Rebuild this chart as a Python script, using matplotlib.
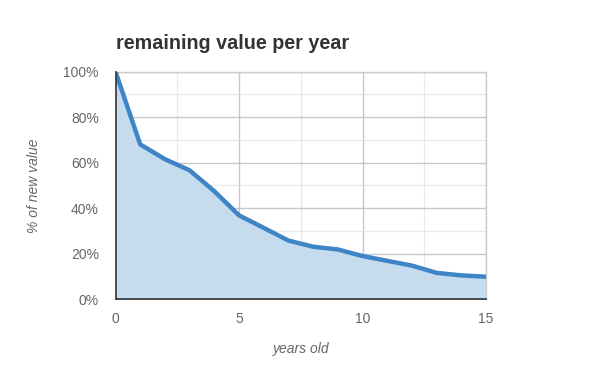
import numpy as np
import matplotlib.pyplot as plt
from matplotlib.ticker import FuncFormatter, MultipleLocator

years = [0, 1, 2, 3, 4, 5, 6, 7, 8, 9, 10, 11, 12, 13, 14, 15]
value_pct = [100, 68, 61.5, 56.6, 47.4, 36.8, 31.3, 25.7, 23, 21.8, 18.9, 16.8, 14.7, 11.5, 10.4, 9.8]

plt.rcParams['font.family'] = ['Liberation Sans', 'DejaVu Sans']

fig = plt.figure(figsize=(6, 3.71), dpi=100)
ax = fig.add_axes([0.1925, 0.194, 0.6175, 0.613])

ax.fill_between(years, value_pct, 0, color='#c5dcef', zorder=2)
ax.plot(years, value_pct, color='#3d85c6', lw=3.2, solid_joinstyle='round', zorder=4)

ax.set_xlim(0, 15)
ax.set_ylim(0, 100)
ax.xaxis.set_major_locator(MultipleLocator(5))
ax.xaxis.set_minor_locator(MultipleLocator(2.5))
ax.yaxis.set_major_locator(MultipleLocator(20))
ax.yaxis.set_minor_locator(MultipleLocator(10))
ax.yaxis.set_major_formatter(FuncFormatter(lambda v, p: '%d%%' % v))

# gridlines drawn over the fill, like the original
ax.grid(which='major', color='#bbbbbb', lw=1, alpha=0.8, zorder=3)
ax.grid(which='minor', color='#dddddd', lw=1, alpha=0.6, zorder=3)
for s in ['top', 'right']:
    ax.spines[s].set_color('#cccccc')
    ax.spines[s].set_linewidth(1)
for s in ['left', 'bottom']:
    ax.spines[s].set_color('#333333')
    ax.spines[s].set_linewidth(1.2)
    ax.spines[s].set_zorder(5)

ax.tick_params(which='both', length=0, labelsize=10, labelcolor='#666666')
ax.tick_params(axis='x', pad=9)
ax.tick_params(axis='y', pad=12)

ax.set_title('remaining value per year', loc='left', fontsize=14.2, fontweight='bold',
             color='#333333', pad=16)
ax.set_xlabel('years old', fontsize=10, style='italic', color='#666666', labelpad=12)
ax.set_ylabel('% of new value', fontsize=10, style='italic', color='#666666', labelpad=16)

fig.savefig('out.png', dpi=100)
